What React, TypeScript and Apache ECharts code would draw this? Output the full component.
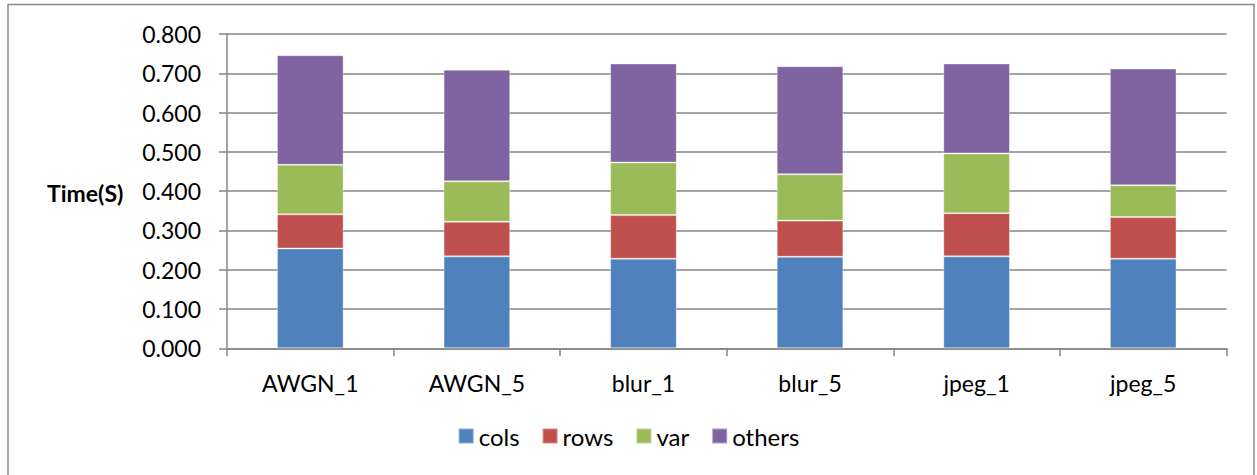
import React, { useEffect, useRef } from "react";
import * as echarts from "echarts";

// Processing time per test case, split by stage (seconds)
const categories = ["AWGN_1", "AWGN_5", "blur_1", "blur_5", "jpeg_1", "jpeg_5"];
const colsTime = [0.254, 0.234, 0.228, 0.233, 0.234, 0.228];
const rowsTime = [0.087, 0.088, 0.111, 0.092, 0.110, 0.106];
const varTime = [0.126, 0.103, 0.134, 0.118, 0.152, 0.081];
const othersTime = [0.279, 0.284, 0.252, 0.275, 0.229, 0.297];

const seriesNames = ["cols", "rows", "var", "others"];
const seriesColors = ["#4F81BD", "#C0504D", "#9BBB59", "#8064A2"];
const seriesData = [colsTime, rowsTime, varTime, othersTime];

const FONT = "Lato, 'Noto Sans', sans-serif";

export default function App() {
  const ref = useRef<HTMLDivElement>(null);

  useEffect(() => {
    document.body.style.margin = "0";
    const chart = echarts.init(ref.current!, null, { renderer: "svg" });
    chart.setOption({
      animation: false,
      backgroundColor: "#ffffff",
      textStyle: { fontFamily: FONT },
      grid: { left: 227, top: 34, right: 30.5, bottom: 126.7, containLabel: false },
      graphic: [
        {
          type: "rect",
          shape: { x: 8, y: 4.5, width: 1246, height: 490 },
          style: { fill: "none", stroke: "#8a8a8a", lineWidth: 1.5 },
          silent: true,
        },
        {
          type: "text",
          x: 47,
          y: 193,
          style: {
            text: "Time(S)",
            font: `bold 23px ${FONT}`,
            fill: "#000",
            verticalAlign: "middle",
          },
        },
      ],
      legend: {
        bottom: 22,
        left: "center",
        itemWidth: 15,
        itemHeight: 15,
        itemGap: 22,
        icon: "rect",
        textStyle: { fontSize: 24, color: "#000", fontFamily: FONT },
        data: seriesNames,
      },
      xAxis: {
        type: "category",
        data: categories,
        axisLine: { lineStyle: { color: "#868686", width: 1.5 } },
        axisTick: { show: true, length: 8, lineStyle: { color: "#868686", width: 1.5 } },
        axisLabel: { fontSize: 23, color: "#000", margin: 23, fontFamily: FONT },
      },
      yAxis: {
        type: "value",
        min: 0,
        max: 0.8,
        interval: 0.1,
        axisLine: { show: true, lineStyle: { color: "#868686", width: 1.5 } },
        axisTick: { show: true, length: 8, lineStyle: { color: "#868686", width: 1.5 } },
        splitLine: { lineStyle: { color: "#868686", width: 1.5 } },
        axisLabel: {
          fontSize: 23,
          color: "#000",
          margin: 26,
          fontFamily: FONT,
          formatter: (v: number) => v.toFixed(3),
        },
      },
      series: seriesNames.map((name, i) => ({
        name,
        type: "bar",
        stack: "total",
        barWidth: "40%",
        data: seriesData[i],
        itemStyle: { color: seriesColors[i], borderColor: "rgba(255,255,255,0.35)", borderWidth: 1 },
      })),
    });
    return () => chart.dispose();
  }, []);

  return <div ref={ref} style={{ width: 1257, height: 475 }} />;
}
